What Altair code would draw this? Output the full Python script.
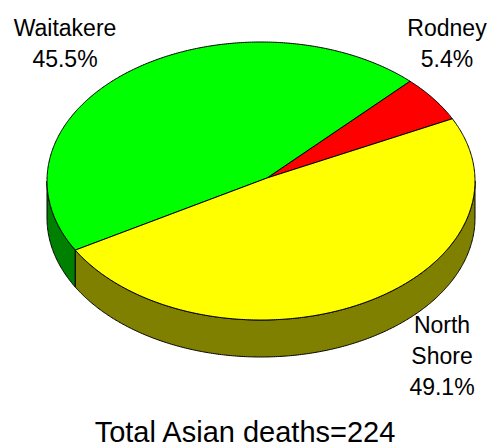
import math
import altair as alt

# ---- data ----
regions = ["Rodney", "Waitakere", "North Shore"]
deaths = [12, 102, 110]
label_lines = [["Rodney"], ["Waitakere"], ["North", "Shore"]]
title_prefix = "Total Asian deaths="

# ---- styles ----
top_colors = ["#ff0000", "#00ff00", "#ffff00"]
side_colors = ["#800000", "#008000", "#808000"]
FONT = "Liberation Sans"

# ---- layout (page pixel coordinates) ----
CX, CY, RX, RY, DEPTH = 261, 181, 214, 139, 37
APEX = (267, 178)
START = 26.6
label_anchor = [(447, 36), (65, 36), (442, 333)]
LINE_H = 31
title_anchor = (245, 442)
W, H = 480, 440

total = sum(deaths)


def ell(t, dy=0.0):
    r = math.radians(t)
    return [CX + RX * math.cos(r), CY - RY * math.sin(r) + dy]


def arc(a0, a1, dy=0.0):
    n = max(2, int(abs(a1 - a0) / 0.5) + 1)
    return [ell(a0 + (a1 - a0) * i / (n - 1), dy) for i in range(n)]


def feature(ring, fill, name):
    return {
        "type": "Feature",
        "geometry": {"type": "Polygon", "coordinates": [ring]},
        "properties": {"fill": fill, "name": name},
    }


top_features, side_features = [], []
a = START
for name, v, tc, sc in zip(regions, deaths, top_colors, side_colors):
    a0, a1 = a, a + 360.0 * v / total
    a = a1
    ring = [list(APEX)] + arc(a0, a1) + [list(APEX)]
    top_features.append(feature(ring, tc, name))
    for k in (-360, 0, 360):
        lo, hi = max(a0, 180 + k), min(a1, 360 + k)
        if hi > lo:
            front = arc(lo, hi)
            back = arc(hi, lo, DEPTH)
            side_features.append(feature(front + back + [front[0]], sc, name))

text_rows = []
for name, v, lines, (lx, ly) in zip(regions, deaths, label_lines, label_anchor):
    all_lines = lines + [f"{100.0 * v / total:.1f}%"]
    for i, t in enumerate(all_lines):
        text_rows.append({"x": lx, "y": ly + i * LINE_H, "t": t})

title_rows = [{"x": title_anchor[0], "y": title_anchor[1], "t": f"{title_prefix}{total}"}]

PROJ = dict(type="identity", scale=1, translate=[-8, -8])

sides = alt.Chart(alt.Data(values=side_features)).mark_geoshape(
    stroke="black", strokeWidth=1
).encode(fill=alt.Fill("properties.fill:N", scale=None)).project(**PROJ)

tops = alt.Chart(alt.Data(values=top_features)).mark_geoshape(
    stroke="black", strokeWidth=1
).encode(fill=alt.Fill("properties.fill:N", scale=None)).project(**PROJ)

labels = alt.Chart(alt.Data(values=text_rows)).mark_text(
    font=FONT, fontSize=23, color="black", align="center", baseline="alphabetic"
).encode(longitude="x:Q", latitude="y:Q", text="t:N").project(**PROJ)

title = alt.Chart(alt.Data(values=title_rows)).mark_text(
    font=FONT, fontSize=29, color="black", align="center", baseline="alphabetic"
).encode(longitude="x:Q", latitude="y:Q", text="t:N").project(**PROJ)

chart = alt.layer(sides, tops, labels, title).properties(
    width=W, height=H, padding=0, autosize=alt.AutoSizeParams(type="none"),
    background="white",
).configure_view(stroke=None)

chart.save("out.html", embed_options={"renderer": "svg", "actions": False})
